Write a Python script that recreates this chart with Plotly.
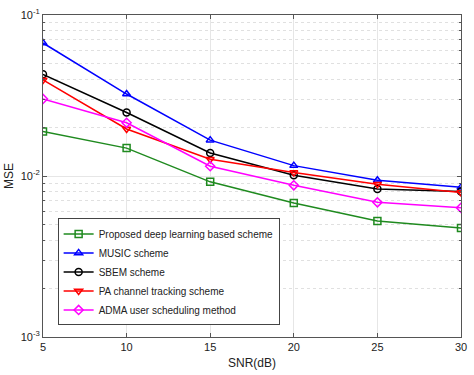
import plotly.graph_objects as go

snr = [5, 10, 15, 20, 25, 30]

proposed = [0.0189, 0.0149, 0.0092, 0.0068, 0.00525, 0.00475]
music = [0.067, 0.0323, 0.0167, 0.0116, 0.0094, 0.0085]
sbem = [0.0428, 0.0248, 0.0139, 0.0101, 0.0083, 0.0080]
pa_tracking = [0.0395, 0.0196, 0.0127, 0.0105, 0.0089, 0.0079]
adma = [0.0301, 0.0214, 0.0115, 0.00875, 0.00686, 0.00634]

names = ['Proposed deep learning based scheme', 'MUSIC scheme', 'SBEM scheme',
         'PA channel tracking scheme', 'ADMA user scheduling method']
series = [proposed, music, sbem, pa_tracking, adma]
colors = ['#1f8a1f', '#0000ff', '#000000', '#ff0000', '#ff00ff']
symbols = ['square-open', 'triangle-up-open', 'circle-open', 'triangle-down-open', 'diamond-open']

fig = go.Figure()
for name, vals, col, sym in zip(names, series, colors, symbols):
    fig.add_trace(go.Scatter(
        x=snr, y=vals, name=name, mode='lines+markers',
        line=dict(color=col, width=1.5),
        marker=dict(symbol=sym, size=7, color=col, line=dict(width=1.5, color=col)),
    ))

axis_style = dict(showline=True, linecolor='#555', linewidth=1, mirror='ticks',
                  ticks='inside', tickcolor='#555', ticklen=4,
                  gridcolor='#e6e6e6', zeroline=False, ticklabeloverflow='allow',
                  tickfont=dict(size=11, color='#222'))

fig.update_xaxes(range=[5, 30], tickvals=[5, 10, 15, 20, 25, 30],
                 title=dict(text='SNR(dB)', font=dict(size=12, color='#222'), standoff=6),
                 **axis_style)
fig.update_yaxes(type='log', range=[-3, -1], tickvals=[1e-3, 1e-2, 1e-1],
                 ticktext=['10<sup>-3</sup>', '10<sup>-2</sup>', '10<sup>-1</sup>'],
                 title=dict(text='MSE', font=dict(size=12, color='#222'), standoff=4),
                 minor=dict(dtick='D1', showgrid=True, gridcolor='#e0e0e0', griddash='dot',
                            ticks='inside', ticklen=2, tickcolor='#555'),
                 **axis_style)

fig.update_layout(
    width=474, height=375,
    margin=dict(l=43, r=8, t=7, b=35),
    paper_bgcolor='white', plot_bgcolor='white',
    font=dict(family='Liberation Sans, Arial, sans-serif', color='#222'),
    legend=dict(x=0.035, y=0.036, xanchor='left', yanchor='bottom',
                bgcolor='white', bordercolor='#444', borderwidth=1,
                font=dict(size=10), tracegroupgap=0, itemwidth=30),
    showlegend=True,
)

# drop the default page margin so the figure sits at the window's corner
fig.write_html("out.html", config={'displayModeBar': False},
               post_script="document.body.style.margin='0';")
